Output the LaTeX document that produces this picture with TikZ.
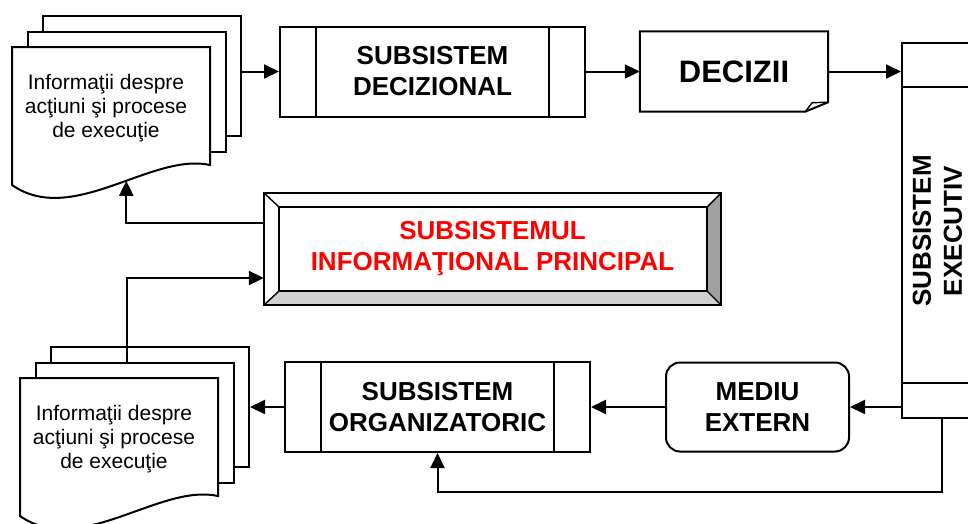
\documentclass[tikz,border=0pt]{standalone}
\usepackage{fontspec}
\setmainfont{Liberation Sans}
\usetikzlibrary{arrows.meta}
\definecolor{bevellight}{HTML}{D0D0D0}
\definecolor{beveldark}{HTML}{A0A0A0}
\definecolor{infored}{HTML}{FF0000}
\tikzset{
    ln/.style={line width=2pt},
    arr/.style={line width=2pt, -{Triangle[length=15pt,width=14pt]}},
    boldtext/.style={font=\bfseries\fontsize{26}{31}\selectfont, align=center},
    doctext/.style={font=\fontsize{21}{24}\selectfont, align=center},
    procbox/.style={boldtext, draw, line width=2pt, fill=white, minimum width=305pt, minimum height=90pt, inner sep=0pt},
    page/.style={draw, line width=2pt, fill=white, minimum width=198pt, minimum height=120pt, inner sep=0pt}
}

\begin{document}
\begin{tikzpicture}[x=1pt, y=-1pt]
    \useasboundingbox (0,0) rectangle (968,523);
    \fill[white] (0,0) rectangle (968,523);
    \clip (0,0) rectangle (968,523);

    % Document stacks (front page top-left corner)
    \foreach \ox/\oy/\nm in {12/47/docA, 20/378/docB} {
        \node[page] (\nm-back) at (\ox+130,\oy+29) {};
        \node[page] (\nm-mid) at (\ox+114.5,\oy+44.5) {};
        \draw[ln, fill=white] (\ox,\oy) -- ++(198,0) -- ++(0,118)
            .. controls (\ox+140,\oy+105) and (\ox+60,\oy+180) .. (\ox,\oy+138)
            coordinate[pos=0.43] (\nm-in) -- cycle;
        \coordinate (\nm-top) at (\ox+107,\oy-15.5);
        \node[doctext] (\nm-txt) at (\ox+94,\oy+61) {Informaţii despre\\acţiuni şi procese\\de execuţie};
    }

    % Subsystem boxes
    \node[procbox] (decizional) at (432.5,71.5) {SUBSISTEM\\DECIZIONAL};
    \node[procbox] (organizatoric) at (437.5,407) {SUBSISTEM\\ORGANIZATORIC};
    \foreach \b in {decizional,organizatoric} {
        \draw[ln] ([xshift=37pt]\b.north west) -- ([xshift=37pt]\b.south west);
        \draw[ln] ([xshift=-37pt]\b.north east) -- ([xshift=-37pt]\b.south east);
    }

    % Decisions (folded corner)
    \node[boldtext, font=\bfseries\fontsize{31}{36}\selectfont, minimum width=188pt, minimum height=80pt] (decizii) at (734,71.5) {DECIZII};
    \draw[ln] (decizii.north west) -- (decizii.north east) -- ([yshift=9.5pt]decizii.south east)
        -- ([xshift=-23pt]decizii.south east) -- (decizii.south west) -- cycle;
    \draw[line width=1.4pt] ([xshift=-23pt]decizii.south east) -- ([xshift=-16pt,yshift=9pt]decizii.south east) -- ([yshift=9.5pt]decizii.south east);

    % External environment
    \node[boldtext, draw, ln, rounded corners=14pt, minimum width=183pt, minimum height=89pt] (mediu) at (757.5,407) {MEDIU\\EXTERN};

    % Executive subsystem (cut by the right margin)
    \node[draw, ln, minimum width=98pt, minimum height=375pt] (executiv) at (951,230.5) {};
    \draw[ln] ([yshift=-45pt]executiv.north west) -- ([yshift=-45pt]executiv.north east);
    \draw[ln] ([yshift=36pt]executiv.south west) -- ([yshift=36pt]executiv.south east);
    \node[boldtext, rotate=90] (execlbl) at (937.5,231) {SUBSISTEM\\EXECUTIV};

    % Main information subsystem (bevelled frame)
    \node[minimum width=457pt, minimum height=112pt] (info) at (492.5,249) {};
    \coordinate (inw) at ([shift={(15pt,-14pt)}]info.north west);
    \coordinate (ine) at ([shift={(-14pt,-14pt)}]info.north east);
    \coordinate (ise) at ([shift={(-14pt,14pt)}]info.south east);
    \coordinate (isw) at ([shift={(15pt,14pt)}]info.south west);
    \fill[bevellight] (info.south west) -- (isw) -- (ise) -- (info.south east) -- cycle;
    \fill[beveldark] (info.north east) -- (ine) -- (ise) -- (info.south east) -- cycle;
    \draw[ln] (info.north west) rectangle (info.south east);
    \draw[ln] (inw) rectangle (ise);
    \foreach \o/\i in {north west/inw, north east/ine, south east/ise, south west/isw}
        \draw[line width=1.4pt] (info.\o) -- (\i);
    \node[boldtext, text=infored] (infolbl) at (info.center) {SUBSISTEMUL\\INFORMAŢIONAL PRINCIPAL};

    % Connectors
    \draw[arr] (docA-back.east |- decizional.west) -- (decizional.west);
    \draw[arr] (decizional.east) -- (decizii.west);
    \draw[arr] (decizii.east) -- (decizii.east -| executiv.west);
    \draw[arr] (mediu.east -| executiv.west) -- (mediu.east);
    \draw[arr] (mediu.west) -- (organizatoric.east);
    \draw[arr] (organizatoric.west) -- (organizatoric.west -| docB-back.east);
    \draw[arr] ([yshift=26pt]info.west) -| (docA-in);
    \draw[arr] (docB-top) |- ([yshift=-29pt]info.west);
    \coordinate (ret) at (942,492);
    \draw[arr] (ret |- executiv.south) -- (ret) -| (organizatoric.south);
\end{tikzpicture}
\end{document}
